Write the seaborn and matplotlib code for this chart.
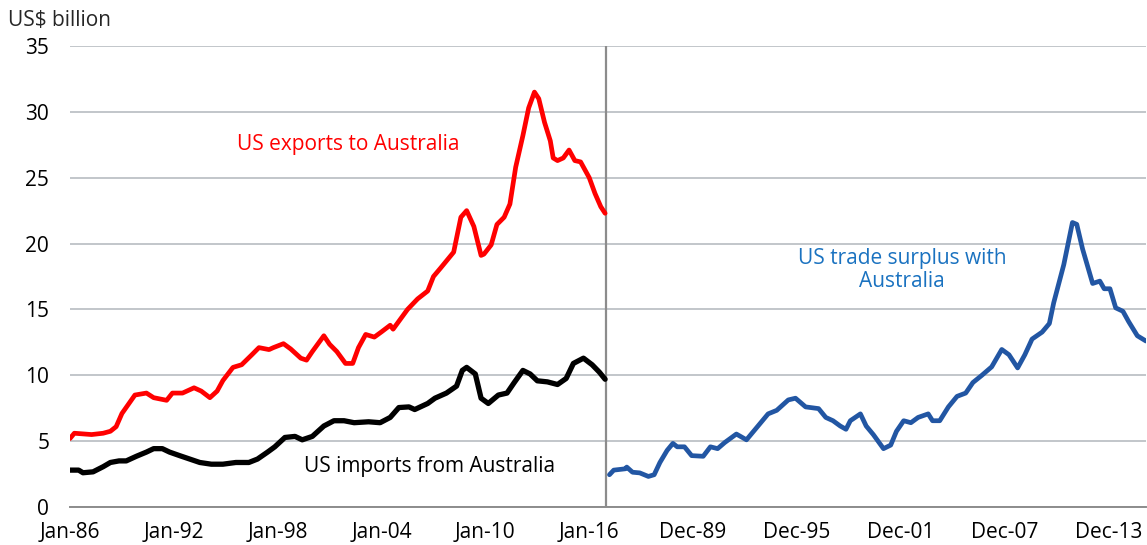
import numpy as np
import pandas as pd
import matplotlib
matplotlib.use("Agg")
import matplotlib.pyplot as plt
import seaborn as sns

# ---------------- data (US$ billion) ----------------
export_dates = ["1986-01", "1986-04", "1987-04", "1987-12", "1988-05", "1988-09", "1989-01", "1989-10",
                "1990-06", "1990-11", "1991-08", "1991-12", "1992-07", "1993-03", "1993-08", "1994-02",
                "1994-07", "1994-11", "1995-06", "1995-12", "1996-07", "1996-12", "1997-07", "1997-10",
                "1998-05", "1998-10", "1999-05", "1999-09", "2000-01", "2000-09", "2001-01", "2001-06",
                "2001-12", "2002-05", "2002-09", "2003-02", "2003-08", "2004-01", "2004-07", "2004-09",
                "2005-01", "2005-07", "2006-02", "2006-09", "2007-01", "2007-06", "2008-03", "2008-08",
                "2008-12", "2009-05", "2009-10", "2009-12", "2010-05", "2010-09", "2011-02", "2011-06",
                "2011-10", "2012-03", "2012-07", "2012-11", "2013-02", "2013-06", "2013-10", "2013-12",
                "2014-03", "2014-07", "2014-11", "2015-03", "2015-07", "2016-01", "2016-05", "2016-09",
                "2016-12"]
exports = [5.2, 5.6, 5.5, 5.6, 5.75, 6.1, 7.1, 8.5,
           8.65, 8.3, 8.1, 8.65, 8.65, 9.05, 8.8, 8.3,
           8.8, 9.6, 10.6, 10.8, 11.55, 12.1, 11.95, 12.1,
           12.4, 12.0, 11.3, 11.15, 11.8, 13.0, 12.35, 11.8,
           10.9, 10.9, 12.1, 13.1, 12.9, 13.3, 13.8, 13.5,
           14.1, 15.0, 15.8, 16.4, 17.5, 18.15, 19.35, 22.0,
           22.5, 21.3, 19.1, 19.2, 19.9, 21.45, 22.0, 23.0,
           25.8, 28.2, 30.3, 31.5, 31.0, 29.2, 27.8, 26.5,
           26.3, 26.5, 27.1, 26.3, 26.2, 25.0, 23.8, 22.8,
           22.3]

import_dates = ["1986-01", "1986-07", "1986-10", "1987-05", "1987-12", "1988-05", "1988-11", "1989-04",
                "1989-11", "1990-06", "1990-11", "1991-05", "1991-10", "1992-05", "1992-12", "1993-07",
                "1994-03", "1994-11", "1995-08", "1996-05", "1996-11", "1997-06", "1997-11", "1998-06",
                "1999-01", "1999-06", "2000-01", "2000-09", "2001-04", "2001-11", "2002-06", "2003-04",
                "2003-12", "2004-07", "2005-01", "2005-08", "2005-12", "2006-09", "2007-02", "2007-10",
                "2008-05", "2008-09", "2008-12", "2009-06", "2009-10", "2010-03", "2010-10", "2011-04",
                "2011-09", "2012-03", "2012-08", "2013-01", "2013-08", "2014-03", "2014-09", "2015-02",
                "2015-09", "2016-03", "2016-08", "2016-12"]
imports = [2.8, 2.8, 2.6, 2.67, 3.06, 3.38, 3.5, 3.5,
           3.85, 4.17, 4.43, 4.43, 4.17, 3.9, 3.64, 3.38,
           3.25, 3.25, 3.38, 3.38, 3.64, 4.17, 4.57, 5.28,
           5.36, 5.1, 5.36, 6.15, 6.55, 6.55, 6.4, 6.47,
           6.4, 6.8, 7.55, 7.6, 7.4, 7.86, 8.26, 8.65,
           9.18, 10.37, 10.6, 10.1, 8.26, 7.86, 8.5, 8.65,
           9.45, 10.37, 10.1, 9.58, 9.5, 9.3, 9.76, 10.9,
           11.3, 10.8, 10.24, 9.7]

surplus_dates = ["1986-02", "1986-05", "1987-01", "1987-02", "1987-06", "1987-11", "1988-05", "1988-09",
                 "1989-01", "1989-06", "1989-10", "1990-01", "1990-06", "1990-11", "1991-07", "1991-12",
                 "1992-05", "1992-10", "1993-06", "1994-01", "1994-09", "1995-04", "1995-10", "1996-06",
                 "1996-11", "1997-06", "1998-03", "1998-08", "1999-01", "1999-06", "1999-10", "2000-01",
                 "2000-08", "2000-12", "2001-05", "2001-12", "2002-05", "2002-09", "2003-02", "2003-07",
                 "2003-12", "2004-07", "2004-10", "2005-03", "2005-09", "2006-03", "2006-09", "2007-02",
                 "2007-08", "2008-03", "2008-10", "2009-03", "2009-09", "2010-02", "2010-07", "2011-02",
                 "2011-07", "2011-10", "2012-05", "2012-11", "2013-02", "2013-06", "2014-01", "2014-06",
                 "2014-09", "2015-01", "2015-05", "2015-10", "2016-02", "2016-08", "2017-02"]
surplus = [2.45, 2.8, 2.9, 3.03, 2.64, 2.59, 2.32, 2.45,
           3.38, 4.3, 4.83, 4.57, 4.57, 3.9, 3.85, 4.57,
           4.43, 4.9, 5.54, 5.1, 6.15, 7.07, 7.34, 8.13,
           8.26, 7.6, 7.47, 6.8, 6.55, 6.15, 5.9, 6.55,
           7.07, 6.15, 5.49, 4.43, 4.7, 5.75, 6.55, 6.4,
           6.8, 7.07, 6.55, 6.55, 7.6, 8.4, 8.65, 9.45,
           9.98, 10.64, 11.96, 11.56, 10.56, 11.56, 12.75, 13.28,
           13.93, 15.5, 18.4, 21.6, 21.46, 19.6, 16.97, 17.15,
           16.57, 16.57, 15.12, 14.86, 14.07, 13.0, 12.6]

tick_labels = ["Jan-86", "Jan-92", "Jan-98", "Jan-04", "Jan-10", "Jan-16",
               "Dec-89", "Dec-95", "Dec-01", "Dec-07", "Dec-13"]

# ---------------- helpers ----------------
def month_index(dates):
    d = pd.to_datetime(pd.Series(dates), format="%Y-%m")
    return ((d.dt.year - 1986) * 12 + (d.dt.month - 1)).to_numpy()

SECOND_PANEL_OFFSET = 373   # categories: surplus series is drawn after the first block

df_exp = pd.DataFrame({"x": month_index(export_dates), "value": exports})
df_imp = pd.DataFrame({"x": month_index(import_dates), "value": imports})
df_sur = pd.DataFrame({"x": month_index(surplus_dates) + SECOND_PANEL_OFFSET, "value": surplus})

# ---------------- style ----------------
sns.set_theme(style="white")
plt.rcParams['font.family'] = ['Open Sans', 'DejaVu Sans']
FS = 15

W, H = 1147, 545
fig = plt.figure(figsize=(W / 100, H / 100), dpi=100)
ax = fig.add_axes([70 / W, 38 / H, 1076 / W, 461 / H])

ax.set_ylim(0, 35)
ax.set_xlim(0, 746)
ax.set_yticks(np.arange(0, 36, 5))
ax.yaxis.grid(True, color="#c2c6ca", linewidth=1.4)
ax.set_axisbelow(True)
for s in ["top", "right", "left"]:
    ax.spines[s].set_visible(False)
ax.spines["bottom"].set_color("#8c8c8c")
ax.spines["bottom"].set_linewidth(1.4)

ax.axvline(371.5, color="#8c8c8c", linewidth=1.6, zorder=1)

sns.lineplot(data=df_exp, x="x", y="value", ax=ax, color="#ff0000", linewidth=3.4, zorder=3)
sns.lineplot(data=df_imp, x="x", y="value", ax=ax, color="#000000", linewidth=3.8, zorder=3)
sns.lineplot(data=df_sur, x="x", y="value", ax=ax, color="#2256a3", linewidth=3.4, zorder=3)

tick_pos = [0, 72, 144, 216, 288, 360, 432, 504, 576, 648, 720]
ax.set_xticks(tick_pos)
ax.set_xticklabels(tick_labels)
ax.tick_params(axis="x", length=0, pad=11, labelsize=FS, colors="#000000")
ax.tick_params(axis="y", length=0, pad=15, labelsize=FS, colors="#000000")
ax.set_xlabel("")
ax.set_ylabel("")

fig.text(8 / W, 1 - 21 / H, "US$ billion", fontsize=FS, ha="left", va="center")

ax.text(193, 27.5, "US exports to Australia", color="#ff0000", fontsize=FS, ha="center", va="center")
ax.text(249, 3.1, "US imports from Australia", color="#000000", fontsize=FS, ha="center", va="center")
ax.text(577, 18.0, "US trade surplus with\nAustralia", color="#1a72c0", fontsize=FS,
        ha="center", va="center", linespacing=1.15)

fig.savefig("out.png", dpi=100)
